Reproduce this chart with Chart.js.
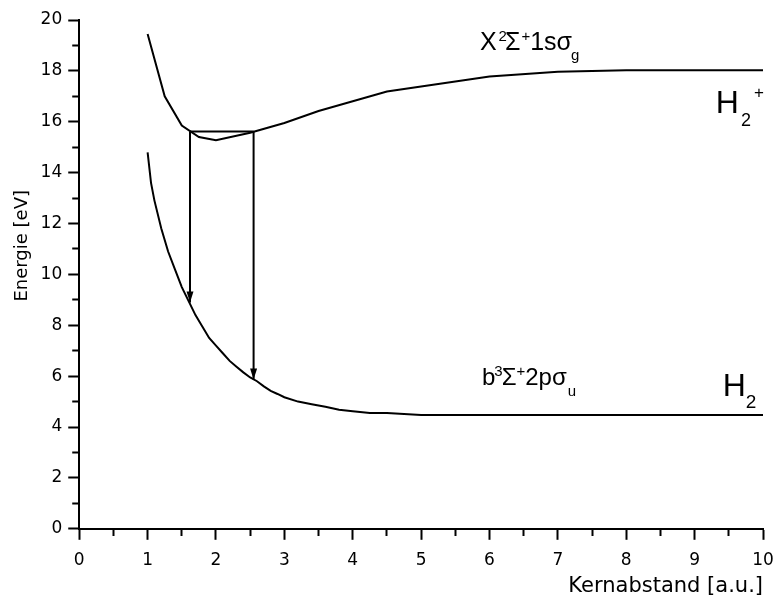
<!DOCTYPE html>
<html>
<head>
<meta charset="utf-8">
<script src="https://cdn.jsdelivr.net/npm/chart.js@4.4.1/dist/chart.umd.min.js"></script>
<style>
  html, body { margin: 0; padding: 0; background: #ffffff; }
  #wrap { position: relative; width: 778px; height: 603px; }
</style>
</head>
<body>
<div id="wrap"><canvas id="c"></canvas></div>
<script>
// ---- data ----
const upperR = [1.0, 1.25, 1.5, 1.75, 2.0, 2.5, 3.0, 3.5, 4.5, 6.0, 7.0, 8.0, 9.0, 10.0];
const upperE = [19.45, 17.0, 15.85, 15.4, 15.27, 15.57, 15.95, 16.42, 17.19, 17.78, 17.97, 18.02, 18.02, 18.02];

const lowerR = [1.0, 1.05, 1.1, 1.2, 1.3, 1.4, 1.5, 1.6, 1.7, 1.8, 1.9, 2.0, 2.1, 2.2, 2.3, 2.4, 2.5, 2.6, 2.7, 2.8, 2.9, 3.0, 3.2, 3.4, 3.6, 3.8, 4.0, 4.25, 4.5, 5.0, 6.0, 7.0, 8.0, 9.0, 10.0];
const lowerE = [14.8, 13.6, 12.9, 11.8, 10.9, 10.2, 9.5, 8.95, 8.4, 7.95, 7.5, 7.2, 6.9, 6.6, 6.37, 6.15, 5.95, 5.8, 5.6, 5.42, 5.3, 5.17, 5.0, 4.9, 4.8, 4.68, 4.62, 4.55, 4.55, 4.47, 4.47, 4.47, 4.47, 4.47, 4.47];

const boxLevel = 15.62;
const transR = [1.62, 2.55];
const transEnd = [8.9, 5.87];

const xRange = [0, 10];
const yRange = [0, 20];
const xTitle = 'Kernabstand [a.u.]';
const yTitle = 'Energie [eV]';

function pts(xs, ys) { return xs.map((x, i) => ({ x: x, y: ys[i] })); }

// ---- plugins ----
const arrowPlugin = {
  id: 'arrowHeads',
  afterDatasetsDraw(chart) {
    const ctx = chart.ctx;
    chart.data.datasets.forEach((ds, i) => {
      if (!ds.arrowHead) return;
      const meta = chart.getDatasetMeta(i);
      const n = meta.data.length;
      const p = meta.data[n - 1], q = meta.data[n - 2];
      const a = Math.atan2(p.y - q.y, p.x - q.x);
      const L = 11, W = 3.5;
      const bx = p.x - L * Math.cos(a), by = p.y - L * Math.sin(a);
      ctx.save();
      ctx.fillStyle = '#000';
      ctx.beginPath();
      ctx.moveTo(p.x, p.y);
      ctx.lineTo(bx + W * Math.sin(a), by - W * Math.cos(a));
      ctx.lineTo(bx - W * Math.sin(a), by + W * Math.cos(a));
      ctx.closePath();
      ctx.fill();
      ctx.restore();
    });
  }
};

const labelPlugin = {
  id: 'richLabels',
  afterDraw(chart, args, opts) {
    const ctx = chart.ctx;
    const xs = chart.scales.x, ys = chart.scales.y;
    ctx.save();
    ctx.fillStyle = '#000';
    ctx.textBaseline = 'alphabetic';
    ctx.textAlign = 'left';
    (opts.items || []).forEach(item => {
      let cx = xs.getPixelForValue(item.x);
      const by = ys.getPixelForValue(item.y);
      item.parts.forEach(pt => {
        cx += pt.dx || 0;
        ctx.font = pt.s + 'px "Liberation Sans", Arial, sans-serif';
        ctx.fillText(pt.t, cx, by + (pt.dy || 0));
        cx += ctx.measureText(pt.t).width;
      });
    });
    ctx.restore();
  }
};

const axisFont = '"DejaVu Sans", sans-serif';

new Chart(document.getElementById('c'), {
  type: 'line',
  data: {
    datasets: [
      { label: 'X2Σ+ 1sσg', data: pts(upperR, upperE) },
      { label: 'b3Σ+ 2pσu', data: pts(lowerR, lowerE) },
      { label: 'box', data: [{ x: transR[0], y: boxLevel }, { x: transR[1], y: boxLevel }] },
      { label: 'arrow1', arrowHead: true, data: [{ x: transR[0], y: boxLevel }, { x: transR[0], y: transEnd[0] }] },
      { label: 'arrow2', arrowHead: true, data: [{ x: transR[1], y: boxLevel }, { x: transR[1], y: transEnd[1] }] }
    ]
  },
  options: {
    responsive: true,
    maintainAspectRatio: false,
    animation: false,
    devicePixelRatio: 1,
    layout: { padding: { left: 8, right: 15, top: 20, bottom: 4 } },
    elements: {
      point: { radius: 0, hoverRadius: 0 },
      line: { tension: 0, borderWidth: 2, borderColor: '#000', fill: false }
    },
    plugins: {
      legend: { display: false },
      tooltip: { enabled: false },
      richLabels: {
        items: [
          { x: 5.86, y: 18.83, parts: [
            { t: 'X', s: 25 }, { t: '2', s: 15, dx: 2, dy: -9 }, { t: 'Σ', s: 25, dx: -2 },
            { t: '+', s: 15, dx: 1, dy: -9 }, { t: '1sσ', s: 25 }, { t: 'g', s: 15, dx: -1, dy: 10 } ] },
          { x: 5.89, y: 5.67, parts: [
            { t: 'b', s: 24 }, { t: '3', s: 15, dx: -1, dy: -9 }, { t: 'Σ', s: 24, dx: -1 },
            { t: '+', s: 15, dy: -9 }, { t: '2pσ', s: 24 }, { t: 'u', s: 15, dx: 1, dy: 11 } ] },
          { x: 9.31, y: 16.35, parts: [
            { t: 'H', s: 32 }, { t: '2', s: 18, dx: 2, dy: 13 }, { t: '+', s: 17, dx: 3, dy: -15 } ] },
          { x: 9.41, y: 5.21, parts: [
            { t: 'H', s: 32 }, { t: '2', s: 19, dx: 0, dy: 12 } ] }
        ]
      }
    },
    scales: {
      x: {
        type: 'linear', min: xRange[0], max: xRange[1],
        border: { display: true, color: '#000', width: 2 },
        grid: {
          drawOnChartArea: false, drawTicks: true, tickLength: 11, tickWidth: 2, tickColor: '#000',
          tickBorderDash: (c) => (c.tick && !Number.isInteger(c.tick.value)) ? [6, 100] : []
        },
        ticks: {
          stepSize: 0.5, autoSkip: false, maxRotation: 0, padding: 4, color: '#000',
          font: { family: axisFont, size: 17, lineHeight: 2 },
          callback: (v) => Number.isInteger(v) ? String(v) : ''
        },
        title: {
          display: true, text: xTitle, align: 'end', color: '#000',
          font: { family: axisFont, size: 21 }, padding: { top: -8, bottom: 0 }
        }
      },
      y: {
        type: 'linear', min: yRange[0], max: yRange[1],
        border: { display: true, color: '#000', width: 2 },
        grid: {
          drawOnChartArea: false, drawTicks: true, tickLength: 11, tickWidth: 2, tickColor: '#000',
          tickBorderDash: (c) => (c.tick && c.tick.value % 2 !== 0) ? [0, 4, 6, 100] : []
        },
        ticks: {
          stepSize: 1, autoSkip: false, padding: 6, color: '#000',
          font: { family: axisFont, size: 17 },
          callback: (v) => (v % 2 === 0) ? String(v) : ''
        },
        title: {
          display: true, text: '          ' + yTitle, align: 'center', color: '#000',
          font: { family: axisFont, size: 18 }, padding: { top: 4, bottom: 1 }
        }
      }
    }
  },
  plugins: [arrowPlugin, labelPlugin]
});
</script>
</body>
</html>
